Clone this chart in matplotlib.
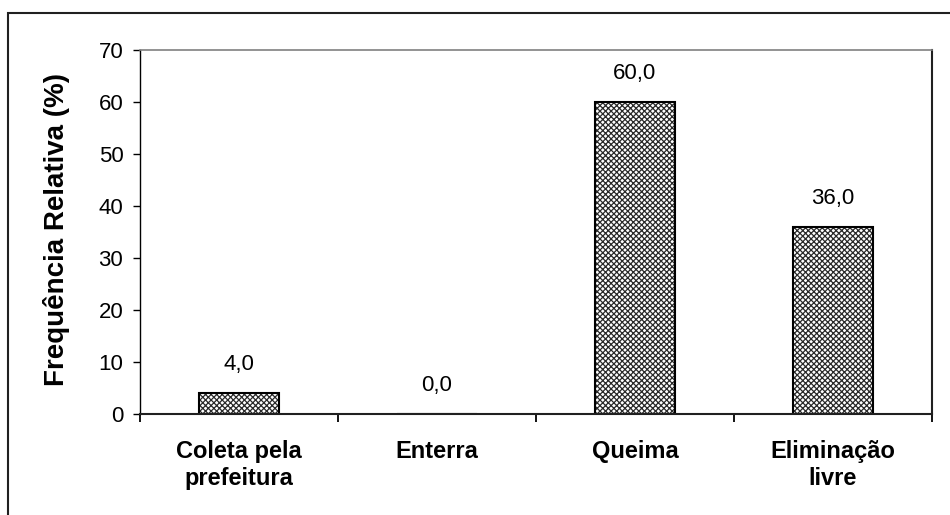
import matplotlib
matplotlib.use("Agg")
import matplotlib.pyplot as plt
from matplotlib.patches import Rectangle
import numpy as np

categories = ["Coleta pela\nprefeitura", "Enterra", "Queima", "Eliminação\nlivre"]
values = [4.0, 0.0, 60.0, 36.0]
yticks = [0, 10, 20, 30, 40, 50, 60, 70]
ylabel = "Frequência Relativa (%)"

plt.rcParams["font.family"] = ["Liberation Sans", "DejaVu Sans"]
plt.rcParams["hatch.linewidth"] = 0.9

fig = plt.figure(figsize=(9.5, 5.15), dpi=100)
ax = fig.add_axes([140 / 950, 1 - 414 / 515, (932 - 140) / 950, (414 - 50) / 515])

x = np.arange(len(categories))
# hatched fill, then a plain black outline on top
ax.bar(x, values, width=0.40, facecolor="white", edgecolor="#2a2a2a",
       hatch="xxxxxx", linewidth=0, zorder=2)
ax.bar(x, values, width=0.40, facecolor="none", edgecolor="black",
       linewidth=1.5, zorder=3)

for xi, v in zip(x, values):
    ax.annotate(f"{v:.1f}".replace(".", ","), (xi, v), xytext=(0, 13),
                textcoords="offset points", ha="center", va="bottom",
                fontsize=16)

ax.set_xlim(-0.5, len(categories) - 0.5)
ax.set_ylim(0, 70)
ax.set_yticks(yticks)
ax.tick_params(axis="y", direction="out", length=5, width=1, pad=7,
               labelsize=16)

ax.set_xticks(x)
ax.set_xticklabels(categories, fontsize=17, fontweight="bold",
                   linespacing=1.2)
ax.tick_params(axis="x", which="major", length=0, pad=19)
ax.set_xticks(np.arange(len(categories) + 1) - 0.5, minor=True)
ax.tick_params(axis="x", which="minor", direction="out", length=6, width=1.3)

ax.spines["left"].set_color("black")
ax.spines["left"].set_linewidth(1.0)
ax.spines["bottom"].set_color("#202020")
ax.spines["bottom"].set_linewidth(1.5)
ax.spines["bottom"].set_zorder(4)
ax.spines["top"].set_color("#808080")
ax.spines["top"].set_linewidth(1.2)
ax.spines["right"].set_color("#202020")
ax.spines["right"].set_linewidth(1.5)

fig.text(57 / 950, 1 - 230 / 515, ylabel, rotation=90, ha="center",
         va="center", fontsize=20, fontweight="bold")

# outer chart frame
fig.patches.append(Rectangle((8 / 950, -0.2), 1.2, 1.2 - 13 / 515,
                             transform=fig.transFigure, fill=False,
                             edgecolor="#202020", linewidth=1.5))

fig.savefig("out.png", dpi=100)
